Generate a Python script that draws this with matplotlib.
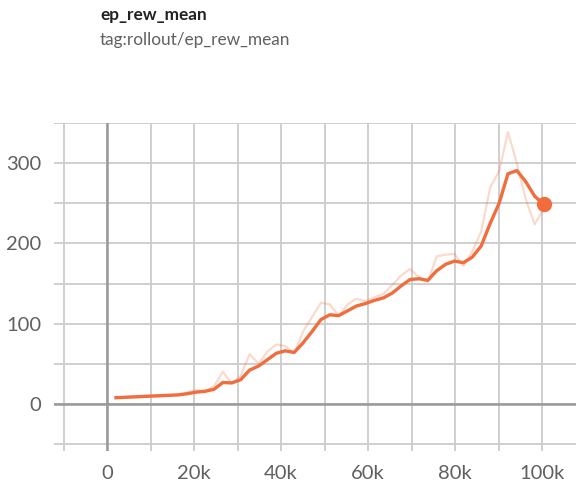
import matplotlib
matplotlib.use("Agg")
import matplotlib.pyplot as plt
from matplotlib.ticker import MultipleLocator, FuncFormatter

# --- data (TensorBoard scalar: rollout/ep_rew_mean) ---
steps = [2048, 4096, 6144, 8192, 10240, 12288, 14336, 16384, 18432, 20480,
         22528, 24576, 26624, 28672, 30720, 32768, 34816, 36864, 38912, 40960,
         43008, 45056, 47104, 49152, 51200, 53248, 55296, 57344, 59392, 61440,
         63488, 65536, 67584, 69632, 71680, 73728, 75776, 77824, 79872, 81920,
         83968, 86016, 88064, 90112, 92160, 94208, 96256, 98304, 100352]
raw = [7.5, 8.5, 9, 9.5, 10, 10.5, 11, 11.5, 14, 17,
       16, 22, 40, 25, 35, 62, 50, 65, 74, 72,
       63, 90, 108, 126, 124, 110, 124, 131, 128, 133,
       137, 148, 160, 168, 158, 152, 184, 186, 187, 172,
       190, 215, 270, 290, 339, 300, 255, 224, 243]
smoothed = [7.5, 8, 8.5, 9, 9.5, 10, 10.5, 11, 12.5, 14.5,
            15.5, 18, 26.5, 26, 30, 42, 47, 55, 63, 66,
            64, 76, 90, 105, 111, 110, 116, 122, 125, 129,
            132, 138, 147, 155, 156, 154, 166, 174, 178, 176,
            183, 197, 225, 250, 287, 291, 277, 259, 249]
title = "ep_rew_mean"
subtitle = "tag:rollout/ep_rew_mean"

LINE = "#f26d3d"
GRID = "#cccccc"
AXIS0 = "#999999"
TXT = "#606060"

plt.rcParams["font.family"] = ["Lato", "DejaVu Sans"]

fig = plt.figure(figsize=(5.76, 4.83), dpi=100)
ax = fig.add_axes([54 / 576, 32 / 483, 522 / 576, 328.5 / 483])

ax.set_xlim(-12200, 107800)
ax.set_ylim(-59, 351)

for s in ax.spines.values():
    s.set_visible(False)

ax.xaxis.set_major_locator(MultipleLocator(20000))
ax.xaxis.set_minor_locator(MultipleLocator(10000))
ax.yaxis.set_major_locator(MultipleLocator(100))
ax.yaxis.set_minor_locator(MultipleLocator(50))
ax.xaxis.set_major_formatter(FuncFormatter(lambda v, _: "0" if v == 0 else f"{v/1000:.0f}k"))
ax.grid(True, which="both", color=GRID, lw=1.3)
ax.set_axisbelow(True)
ax.axhline(0, color=AXIS0, lw=1.8, zorder=1)
ax.axvline(0, color=AXIS0, lw=1.8, zorder=1)

ax.tick_params(which="both", length=0, colors=TXT, labelsize=14.5)
ax.tick_params(axis="x", pad=10)
ax.tick_params(axis="y", pad=9)

ax.plot(steps, raw, color=LINE, alpha=0.25, lw=1.6, zorder=2)
ax.plot(steps, smoothed, color=LINE, lw=2.4, zorder=3, solid_joinstyle="round")
ax.plot(steps[-1], smoothed[-1], "o", color=LINE, ms=10, zorder=4)

fig.text(100 / 576, 1 - 15 / 483, title, fontsize=12.4, fontweight="bold",
         color="#222222", va="center", ha="left")
fig.text(100 / 576, 1 - 40 / 483, subtitle, fontsize=12.4,
         color=TXT, va="center", ha="left")

fig.savefig("out.png", dpi=100)
